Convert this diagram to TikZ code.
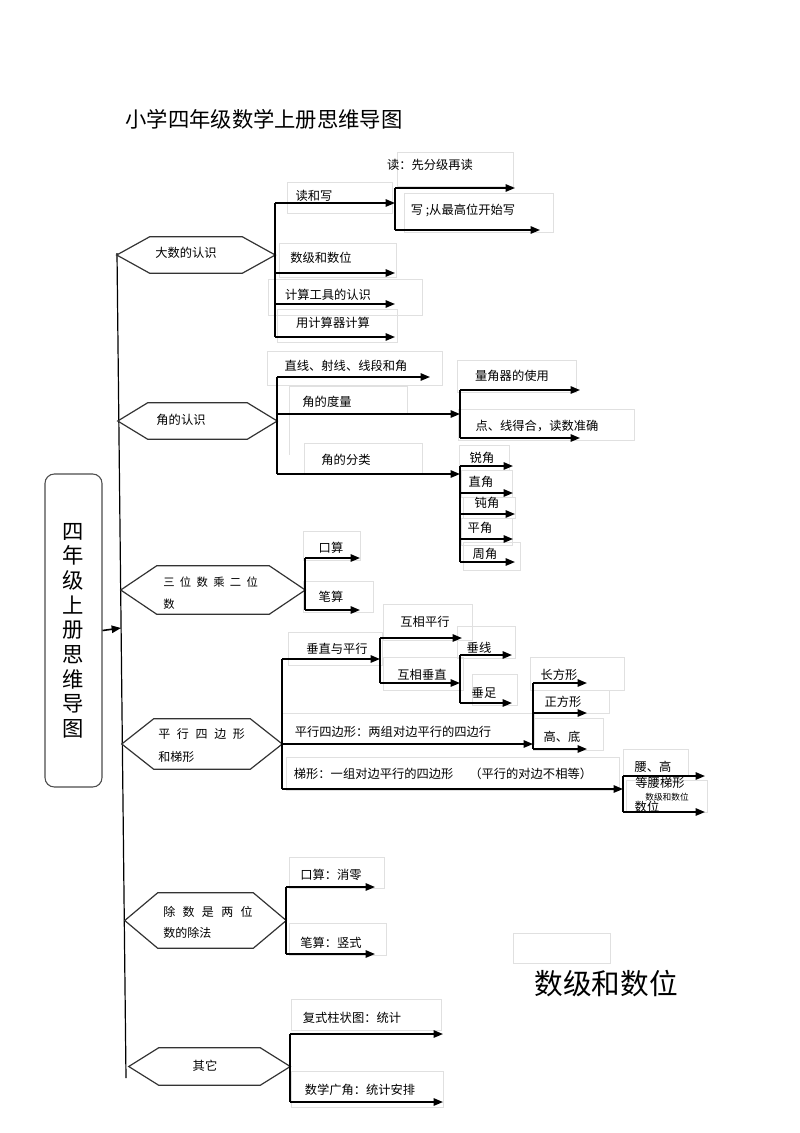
\documentclass[tikz,border=0pt]{standalone}
\usepackage{fontspec}
\setmainfont{Noto Sans CJK SC}
\usetikzlibrary{arrows.meta}
\tikzset{
  trunk/.style={line width=0.9pt},
  stem/.style={line width=1.2pt},
  br/.style={line width=1.2pt,-{Triangle[length=7pt,width=5.5pt]}},
  hexline/.style={draw=black!80,line width=0.9pt},
  faint/.style={draw=black!12,line width=0.5pt},
  lbl/.style={inner sep=0pt,font=\fontsize{9.2pt}{11pt}\selectfont},
  hexnode/.style={inner sep=0pt},
  rootbox/.style={draw=black!70,line width=0.8pt,rounded corners=7pt,align=center,
    minimum width=57*0.75pt,minimum height=313*0.75pt,font=\fontsize{16pt}{18.5pt}\selectfont},
}
\newcommand\hexof[2]{\draw[hexline] (#1.west) -- ([xshift=#2*0.75pt]#1.north west) -- ([xshift=-#2*0.75pt]#1.north east) -- (#1.east) -- ([xshift=-#2*0.75pt]#1.south east) -- ([xshift=#2*0.75pt]#1.south west) -- cycle;}

\begin{document}
\begin{tikzpicture}[x=0.75pt,y=-0.75pt]
  \useasboundingbox (0,0) rectangle (800,1133);

  % faint text frames
  \draw[faint] (287,182) rectangle (392,213);
  \draw[faint] (397,152) rectangle (513,186);
  \draw[faint] (404,193) rectangle (553,232);
  \draw[faint] (279,243) rectangle (396,277);
  \draw[faint] (268,279) rectangle (422,315);
  \draw[faint] (277,309) rectangle (397,342);
  \draw[faint] (267,351) rectangle (442,385);
  \draw[faint] (289,455) -- (289,386) -- (407,386) -- (407,414);
  \draw[faint] (304,443) rectangle (422,474);
  \draw[faint] (457,360) rectangle (576,392);
  \draw[faint] (458,409) rectangle (634,440);
  \draw[faint] (459,445) rectangle (509,470);
  \draw[faint] (461,470) rectangle (512,497);
  \draw[faint] (463,497) rectangle (515,518);
  \draw[faint] (461,518) rectangle (512,545);
  \draw[faint] (463,542) rectangle (520,570);
  \draw[faint] (303,531) rectangle (360,560);
  \draw[faint] (303,581) rectangle (373,612);
  \draw[faint] (288,632) rectangle (382,665);
  \draw[faint] (383,604) rectangle (472,640);
  \draw[faint] (457,626) rectangle (515,658);
  \draw[faint] (383,657) rectangle (463,690);
  \draw[faint] (472,674) rectangle (517,705);
  \draw[faint] (530,657) rectangle (624,690);
  \draw[faint] (533,690) rectangle (609,713);
  \draw[faint] (533,718) rectangle (603,750);
  \draw[faint] (282,713) rectangle (534,744);
  \draw[faint] (286,757) rectangle (619,790);
  \draw[faint] (623,749) rectangle (688,776);
  \draw[faint] (626,780) rectangle (707,812);
  \draw[faint] (289,857) rectangle (384,888);
  \draw[faint] (289,923) rectangle (386,955);
  \draw[faint] (513,933) rectangle (610,963);
  \draw[faint] (291,999) rectangle (441,1030);
  \draw[faint] (291,1071) rectangle (443,1107);

  % title and root
  \node[inner sep=0pt,font=\fontsize{16pt}{18pt}\selectfont] (title) at (264,119) {小学四年级数学上册思维导图};
  \node[rootbox] (root) at (73.5,630.5) {四\\年\\级\\上\\册\\思\\维\\导\\图};
  \node[inner sep=0pt,font=\fontsize{21.5pt}{24pt}\selectfont] (big) at (606,984) {数级和数位};

  % trunk
  \coordinate (top) at (117,253);
  \coordinate (bot) at (126,1078);
  \coordinate (rt) at (121,628);
  \draw[trunk] (top) -- (bot);
  \draw[br] (root.east) -- (rt);

  % hexagons
  \node[hexnode,minimum width=158*0.75pt,minimum height=36*0.75pt] (h1) at (196,255) {};
  \node[hexnode,minimum width=159*0.75pt,minimum height=36*0.75pt] (h2) at (197.5,421) {};
  \node[hexnode,minimum width=184*0.75pt,minimum height=48*0.75pt] (h3) at (213,590) {};
  \node[hexnode,minimum width=160*0.75pt,minimum height=50*0.75pt] (h4) at (202,744) {};
  \node[hexnode,minimum width=161*0.75pt,minimum height=55*0.75pt] (h5) at (205.5,920.5) {};
  \node[hexnode,minimum width=161*0.75pt,minimum height=37*0.75pt] (h6) at (209.5,1066.5) {};
  \hexof{h1}{33}
  \hexof{h2}{30}
  \hexof{h3}{36}
  \hexof{h4}{32}
  \hexof{h5}{33}
  \hexof{h6}{30}

  \node[lbl] (h1t) at (186,253) {大数的认识};
  \node[lbl] (h2t) at (181,420) {角的认识};
  \node[lbl,align=left,anchor=west,font=\fontsize{8.5pt}{16.5pt}\selectfont] (h3t) at (163,593)
    {三\hspace{4pt}位\hspace{4pt}数\hspace{4pt}乘\hspace{4pt}二\hspace{4pt}位\\数};
  \node[lbl,align=left,anchor=west,font=\fontsize{9pt}{17pt}\selectfont] (h4t) at (158,745.5)
    {平\hspace{5pt}行\hspace{5pt}四\hspace{5pt}边\hspace{5pt}形\\和梯形};
  \node[lbl,align=left,anchor=west,font=\fontsize{9pt}{16pt}\selectfont] (h5t) at (163,922.5)
    {除\hspace{5.5pt}数\hspace{5.5pt}是\hspace{5.5pt}两\hspace{5.5pt}位\\数的除法};
  \node[lbl] (h6t) at (205,1066) {其它};

  % 大数的认识
  \coordinate (dxw) at (395,203);
  \coordinate (sjs) at (395,273);
  \coordinate (jsg) at (395,304);
  \coordinate (yjs) at (395,337);
  \draw[stem] (h1.east |- dxw) -- (h1.east |- yjs);
  \draw[br] (h1.east |- dxw) -- (dxw);
  \draw[br] (h1.east |- sjs) -- (sjs);
  \draw[br] (h1.east |- jsg) -- (jsg);
  \draw[br] (h1.east |- yjs) -- (yjs);
  \coordinate (dfj) at (515,188);
  \coordinate (xcg) at (540,230);
  \draw[stem] (dxw |- dfj) -- (dxw |- xcg);
  \draw[br] (dxw |- dfj) -- (dfj);
  \draw[br] (dxw |- xcg) -- (xcg);
  \node[lbl] (l1) at (314,196) {读和写};
  \node[lbl] (l2) at (430,165) {读：先分级再读};
  \node[lbl] (l3) at (463,210) {写\hspace{2pt};从最高位开始写};
  \node[lbl] (l4) at (321,258) {数级和数位};
  \node[lbl] (l5) at (328,295) {计算工具的认识};
  \node[lbl] (l6) at (333,323) {用计算器计算};

  % 角的认识
  \coordinate (zxd) at (430,377);
  \coordinate (jdl) at (460,414);
  \coordinate (jfl) at (460,474);
  \draw[stem] (h2.east |- zxd) -- (h2.east |- jfl);
  \draw[br] (h2.east |- zxd) -- (zxd);
  \draw[br] (h2.east |- jdl) -- (jdl);
  \draw[br] (h2.east |- jfl) -- (jfl);
  \coordinate (ljq) at (580,390);
  \coordinate (dxh) at (580,438);
  \draw[stem] (jdl |- ljq) -- (jdl |- dxh);
  \draw[br] (jdl |- ljq) -- (ljq);
  \draw[br] (jdl |- dxh) -- (dxh);
  \coordinate (ruij) at (513,466);
  \coordinate (zhij) at (513,493);
  \coordinate (dunj) at (515,514);
  \coordinate (pinj) at (513,539);
  \coordinate (zhoj) at (515,562);
  \draw[stem] (jfl |- ruij) -- (jfl |- zhoj);
  \draw[br] (jfl |- ruij) -- (ruij);
  \draw[br] (jfl |- zhij) -- (zhij);
  \draw[br] (jfl |- dunj) -- (dunj);
  \draw[br] (jfl |- pinj) -- (pinj);
  \draw[br] (jfl |- zhoj) -- (zhoj);
  \node[lbl] (l7) at (346,366) {直线、射线、线段和角};
  \node[lbl] (l8) at (327,402) {角的度量};
  \node[lbl] (l9) at (346,460) {角的分类};
  \node[lbl] (l10) at (512,376) {量角器的使用};
  \node[lbl] (l11) at (537,426) {点、线得合，读数准确};
  \node[lbl] (l12) at (482,458) {锐角};
  \node[lbl] (l13) at (481,482) {直角};
  \node[lbl] (l14) at (487,503) {钝角};
  \node[lbl] (l15) at (480,528) {平角};
  \node[lbl] (l16) at (485,554) {周角};

  % 三位数乘二位数
  \coordinate (ksa) at (360,558);
  \coordinate (bsa) at (360,610);
  \draw[stem] (h3.east |- ksa) -- (h3.east |- bsa);
  \draw[br] (h3.east |- ksa) -- (ksa);
  \draw[br] (h3.east |- bsa) -- (bsa);
  \node[lbl] (l17) at (331,548) {口算};
  \node[lbl] (l18) at (331,597) {笔算};

  % 平行四边形和梯形
  \coordinate (czp) at (380,659);
  \coordinate (pxs) at (533,744);
  \coordinate (txs) at (623,789);
  \draw[stem] (h4.east |- czp) -- (h4.east |- txs);
  \draw[br] (h4.east |- czp) -- (czp);
  \draw[br] (h4.east) -- (pxs);
  \draw[br] (h4.east |- txs) -- (txs);
  \coordinate (hxp) at (462,638);
  \coordinate (hxc) at (460,683);
  \draw[stem] (czp |- hxp) -- (czp |- hxc);
  \draw[br] (czp |- hxp) -- (hxp);
  \draw[br] (czp |- hxc) -- (hxc);
  \coordinate (cxn) at (512,655);
  \coordinate (czu) at (512,703);
  \draw[stem] (hxc |- cxn) -- (hxc |- czu);
  \draw[br] (hxc |- cxn) -- (cxn);
  \draw[br] (hxc |- czu) -- (czu);
  \coordinate (cfx) at (587,683);
  \coordinate (zfx) at (587,713);
  \coordinate (gdi) at (587,749);
  \draw[stem] (pxs |- cfx) -- (pxs |- gdi);
  \draw[br] (pxs |- cfx) -- (cfx);
  \draw[br] (pxs |- zfx) -- (zfx);
  \draw[br] (pxs |- gdi) -- (gdi);
  \coordinate (ygo) at (705,776);
  \coordinate (dyt) at (705,812);
  \draw[stem] (txs |- ygo) -- (txs |- dyt);
  \draw[br] (txs |- ygo) -- (ygo);
  \draw[br] (txs |- dyt) -- (dyt);
  \node[lbl] (l19) at (337,649) {垂直与平行};
  \node[lbl] (l20) at (425,622) {互相平行};
  \node[lbl] (l21) at (422,675) {互相垂直};
  \node[lbl] (l22) at (479,648) {垂线};
  \node[lbl] (l23) at (484,693) {垂足};
  \node[lbl] (l24) at (393,732) {平行四边形：两组对边平行的四边行};
  \node[lbl] (l25) at (443,774) {梯形：一组对边平行的四边形\hspace{12pt}（平行的对边不相等）};
  \node[lbl] (l26) at (559,675) {长方形};
  \node[lbl] (l27) at (563,702) {正方形};
  \node[lbl] (l28) at (562,737) {高、底};
  \node[lbl] (l29) at (653,767) {腰、高};
  \node[lbl] (l30) at (660,783) {等腰梯形};
  \node[lbl,font=\fontsize{6.5pt}{8pt}\selectfont] (l31) at (667,797) {数级和数位};
  \node[lbl] (l32) at (647,807) {数位};

  % 除数是两位数的除法
  \coordinate (ksx) at (375,887);
  \coordinate (bsx) at (375,954);
  \draw[stem] (h5.east |- ksx) -- (h5.east |- bsx);
  \draw[br] (h5.east |- ksx) -- (ksx);
  \draw[br] (h5.east |- bsx) -- (bsx);
  \node[lbl] (l33) at (331,875) {口算：消零};
  \node[lbl] (l34) at (331,943) {笔算：竖式};

  % 其它
  \coordinate (fst) at (443,1034);
  \coordinate (sxg) at (443,1102);
  \draw[stem] (h6.east |- fst) -- (h6.east |- sxg);
  \draw[br] (h6.east |- fst) -- (fst);
  \draw[br] (h6.east |- sxg) -- (sxg);
  \node[lbl] (l35) at (352,1018) {复式柱状图：统计};
  \node[lbl] (l36) at (360,1090) {数学广角：统计安排};
\end{tikzpicture}
\end{document}
